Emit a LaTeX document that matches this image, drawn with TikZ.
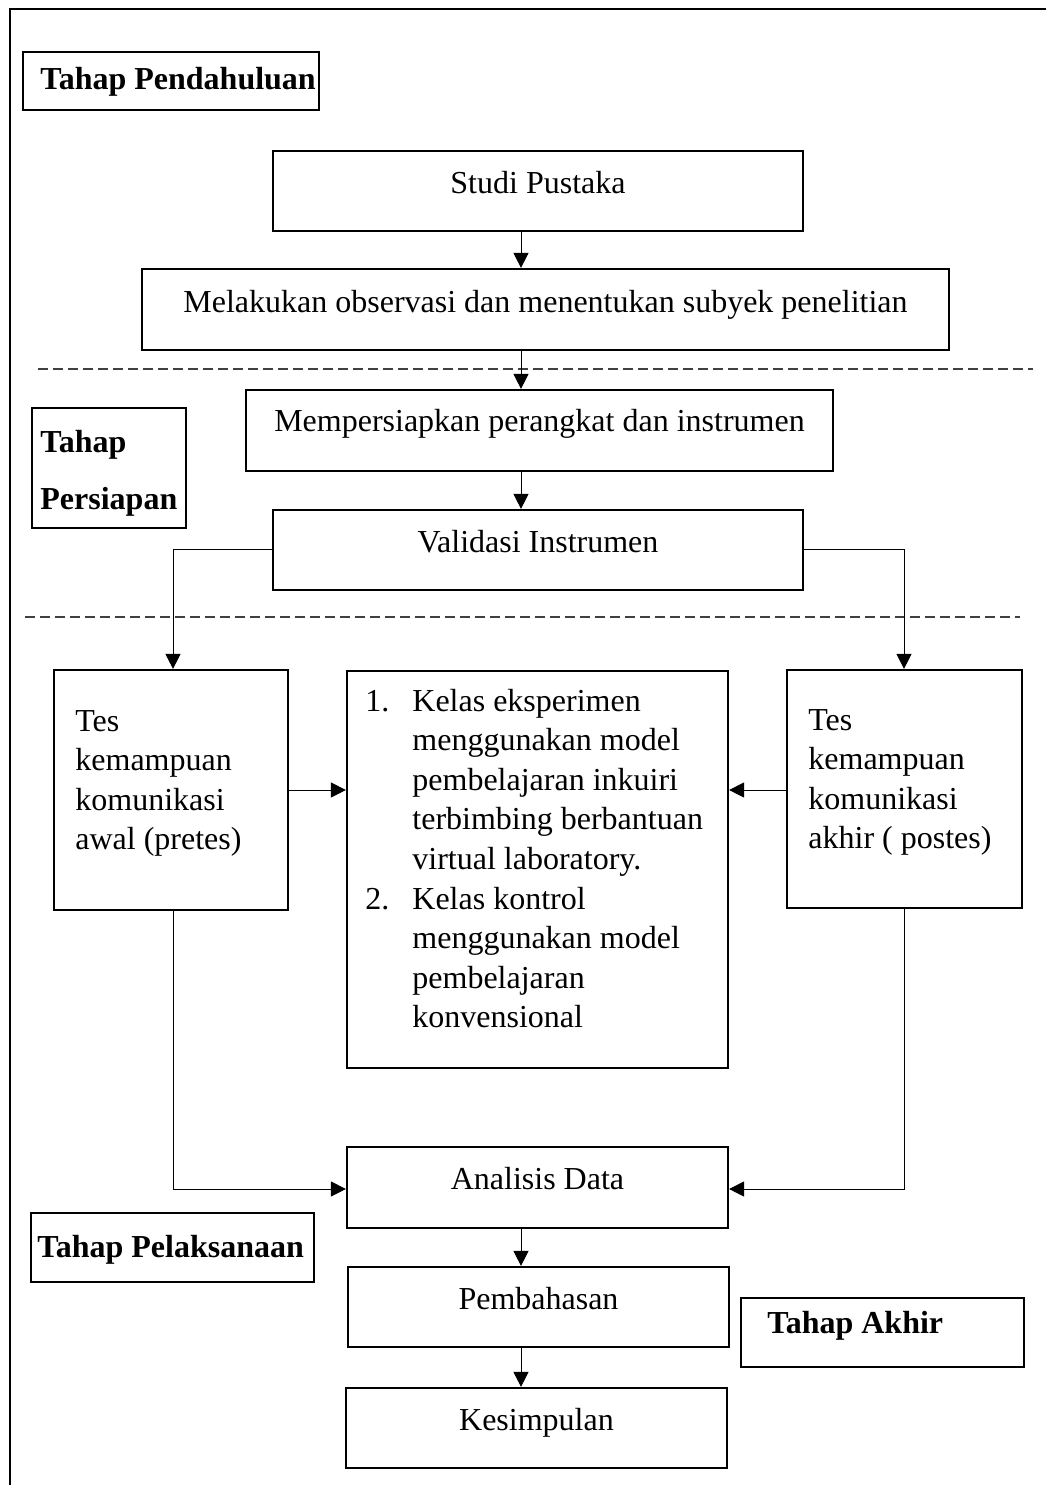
\documentclass[tikz,border=0pt]{standalone}
\usepackage{fontspec}
\setmainfont{Liberation Serif}
\usetikzlibrary{arrows.meta,fit}
\begin{document}
\begin{tikzpicture}[x=0.5pt,y=-0.5pt,
  box/.style={draw,line width=1.1pt,inner sep=0pt},
  txt/.style={inner sep=0pt,font=\fontsize{16pt}{20pt}\selectfont},
  btxt/.style={inner sep=0pt,font=\fontsize{16pt}{20pt}\selectfont\bfseries},
  arr/.style={line width=0.5pt,-{Triangle[length=7.5pt,width=7.5pt]}},
  sep/.style={line width=0.6pt,dash pattern=on 5pt off 2.5pt,draw=black!75}]
\useasboundingbox (0,0) rectangle (1046,1485);
% outer frame (top and left edges)
\draw[line width=1.1pt] (10,1485) -- (10,9) -- (1046,9);

% helper coordinates
\coordinate (ax) at (521,0);
\coordinate (lx) at (173,0);
\coordinate (rx) at (904,0);
\coordinate (vy) at (0,549);
\coordinate (my) at (0,790);
\coordinate (ay) at (0,1189);

% stage labels
\node[box,fit={(23,52)(319,110)}] (pend) {};
\node[btxt,anchor=base west] (pendT) at (40,89) {Tahap Pendahuluan};
\node[box,fit={(32,408)(186,528)}] (pers) {};
\node[btxt,anchor=base west] (persT1) at (40,452) {Tahap};
\node[btxt,anchor=base west] (persT2) at (40,509) {Persiapan};
\node[box,fit={(31,1213)(314,1282)}] (pel) {};
\node[btxt,anchor=base west] (pelT) at (37,1257) {Tahap Pelaksanaan};
\node[box,fit={(741,1298)(1024,1367)}] (akh) {};
\node[btxt,anchor=base west] (akhT) at (767,1333) {Tahap Akhir};

% main boxes
\node[box,fit={(273,151)(803,231)}] (studi) {};
\node[txt,anchor=base] (studiT) at (538,193) {Studi Pustaka};
\node[box,fit={(142,269)(949,350)}] (obs) {};
\node[txt,anchor=base] (obsT) at (545.5,312) {Melakukan observasi dan menentukan subyek penelitian};
\node[box,fit={(246,390)(833,471)}] (prep) {};
\node[txt,anchor=base] (prepT) at (539.5,431) {Mempersiapkan perangkat dan instrumen};
\node[box,fit={(273,510)(803,590)}] (valid) {};
\node[txt,anchor=base] (validT) at (538,552) {Validasi Instrumen};

\node[box,fit={(54,670)(288,910)}] (pre) {};
\foreach \t [count=\i from 0] in {Tes,kemampuan,komunikasi,awal (pretes)}
  \node[txt,anchor=base west] (preT\i) at (75,{731+39.6*\i}) {\t};
\node[box,fit={(787,670)(1022,908)}] (post) {};
\foreach \t [count=\i from 0] in {Tes,kemampuan,komunikasi,akhir ( postes)}
  \node[txt,anchor=base west] (postT\i) at (808,{730+39.6*\i}) {\t};

\node[box,fit={(347,671)(728,1068)}] (mid) {};
\node[txt,anchor=base west] (n1) at (365,711) {1.};
\node[txt,anchor=base west] (n2) at (365,909.6) {2.};
\foreach \t [count=\i from 0] in {Kelas eksperimen,menggunakan model,pembelajaran inkuiri,terbimbing berbantuan,virtual laboratory.,Kelas kontrol,menggunakan model,pembelajaran,konvensional}
  \node[txt,anchor=base west] (midT\i) at (412,{711+39.6*\i}) {\t};

\node[box,fit={(347,1147)(728,1228)}] (anal) {};
\node[txt,anchor=base] (analT) at (537.5,1189) {Analisis Data};
\node[box,fit={(348,1267)(729,1347)}] (bahas) {};
\node[txt,anchor=base] (bahasT) at (538.5,1309) {Pembahasan};
\node[box,fit={(346,1388)(727,1468)}] (simp) {};
\node[txt,anchor=base] (simpT) at (536.5,1430) {Kesimpulan};

% dashed separators
\draw[sep] (38,369) -- (1033,369);
\draw[sep] (25,617) -- (1020,617);

% connectors
\draw[arr] (studi.south -| ax) -- (obs.north -| ax);
\draw[arr] (obs.south -| ax) -- (prep.north -| ax);
\draw[arr] (prep.south -| ax) -- (valid.north -| ax);
\draw[arr] (valid.west |- vy) -| (pre.north -| lx);
\draw[arr] (valid.east |- vy) -| (post.north -| rx);
\draw[arr] (pre.east |- my) -- (mid.west |- my);
\draw[arr] (post.west |- my) -- (mid.east |- my);
\draw[arr] (pre.south -| lx) |- (anal.west |- ay);
\draw[arr] (post.south -| rx) |- (anal.east |- ay);
\draw[arr] (anal.south -| ax) -- (bahas.north -| ax);
\draw[arr] (bahas.south -| ax) -- (simp.north -| ax);
\end{tikzpicture}
\end{document}
